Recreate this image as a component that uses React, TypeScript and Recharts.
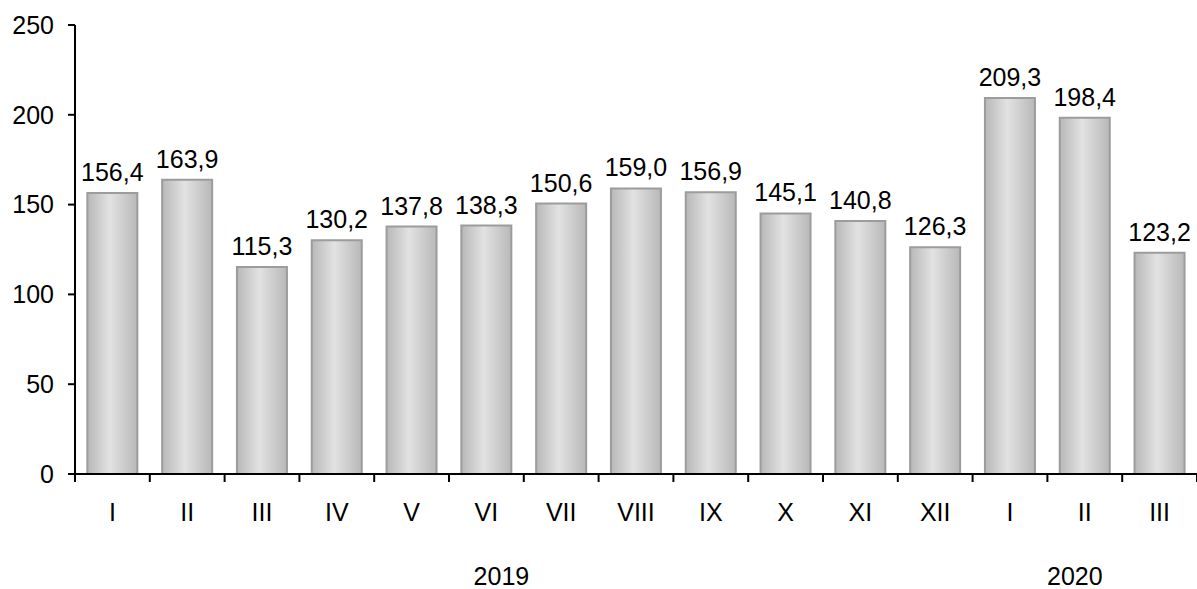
import { BarChart, Bar, XAxis, YAxis, LabelList } from 'recharts';

const MONTHS = ['I', 'II', 'III', 'IV', 'V', 'VI', 'VII', 'VIII', 'IX', 'X', 'XI', 'XII', 'I', 'II', 'III'];
const VALUES = [156.4, 163.9, 115.3, 130.2, 137.8, 138.3, 150.6, 159.0, 156.9, 145.1, 140.8, 126.3, 209.3, 198.4, 123.2];
const YEARS = ['', '', '', '', '', '2019', '', '', '', '', '', '', '', '2020', ''];
const Y_TICKS = [0, 50, 100, 150, 200, 250];

const FONT = '"Liberation Sans", Arial, sans-serif';
const FS = 25;

const data = MONTHS.map((m, i) => ({ key: `${m}-${i}`, month: m, year: YEARS[i], value: VALUES[i] }));

const fmt = (v: any) => Number(v).toFixed(1).replace('.', ',');

// month labels + tick marks on the category boundaries
function MonthTick(props: any) {
  const { x, y, payload, index } = props;
  const half = payload?.offset ?? 37.4;
  const isLast = index === MONTHS.length - 1;
  return (
    <g>
      <line x1={x - half} x2={x - half} y1={y} y2={y + 8} stroke="#000" strokeWidth={2} />
      {isLast && <line x1={x + half} x2={x + half} y1={y} y2={y + 8} stroke="#000" strokeWidth={2} />}
      <text x={x} y={y + 47} textAnchor="middle" style={{ fontSize: FS, fontFamily: FONT }} fill="#000">
        {MONTHS[index]}
      </text>
    </g>
  );
}

function YearTick(props: any) {
  const { x, y, index } = props;
  const label = YEARS[index];
  if (!label) return null;
  const dx = label === '2019' ? 15 : -10;
  return (
    <text x={x + dx} y={y + 71} textAnchor="middle" style={{ fontSize: FS, fontFamily: FONT }} fill="#000">
      {label}
    </text>
  );
}

export default function App() {
  return (
    <div style={{ position: 'absolute', left: 0, top: 0, background: '#fff' }}>
      <BarChart
        width={1197}
        height={589}
        data={data}
        margin={{ top: 25, right: 0, left: 0, bottom: 0 }}
        barCategoryGap="16.5%"
      >
        <defs>
          <linearGradient id="barFill" x1="0" y1="0" x2="1" y2="0">
            <stop offset="0%" stopColor="#b8b8b8" />
            <stop offset="45%" stopColor="#e2e2e2" />
            <stop offset="100%" stopColor="#b8b8b8" />
          </linearGradient>
        </defs>
        <XAxis
          xAxisId="month"
          dataKey="key"
          interval={0}
          height={40}
          tickSize={0}
          tickMargin={0}
          tickLine={false}
          axisLine={{ stroke: '#000', strokeWidth: 2 }}
          tick={<MonthTick />}
        />
        <XAxis
          xAxisId="year"
          dataKey="key"
          interval={0}
          height={75}
          tickSize={0}
          tickMargin={0}
          tickLine={false}
          axisLine={false}
          tick={<YearTick />}
        />
        <YAxis
          domain={[0, 250]}
          ticks={Y_TICKS}
          interval={0}
          width={75}
          tickSize={7}
          tickMargin={14}
          axisLine={{ stroke: '#000', strokeWidth: 2 }}
          tickLine={{ stroke: '#000', strokeWidth: 2 }}
          tick={{ fontSize: FS, fontFamily: FONT, fill: '#000' }}
        />
        <Bar
          xAxisId="month"
          dataKey="value"
          fill="url(#barFill)"
          stroke="#9c9c9c"
          strokeWidth={2}
          isAnimationActive={false}
        >
          <LabelList
            dataKey="value"
            position="top"
            offset={12}
            formatter={fmt}
            style={{ fontSize: FS, fontFamily: FONT, fill: '#000' }}
          />
        </Bar>
      </BarChart>
    </div>
  );
}
